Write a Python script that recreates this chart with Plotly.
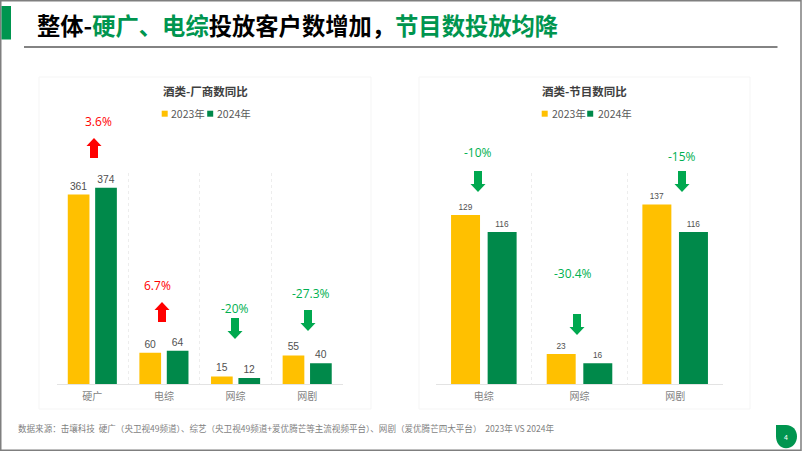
import plotly.graph_objects as go

W, H = 802, 451
cats_left = ["硬广", "电综", "网综", "网剧"]
left_2023 = [361, 60, 15, 55]
left_2024 = [374, 64, 12, 40]
cats_right = ["电综", "网综", "网剧"]
right_2023 = [129, 23, 137]
right_2024 = [116, 16, 116]
series_names = ["2023年", "2024年"]
left_changes = ["3.6%", "6.7%", "-20%", "-27.3%"]
right_changes = ["-10%", "-30.4%", "-15%"]

YEL, GRN = "#FFC000", "#00894A"
RED, LGRN, AGRN = "#FF0000", "#00B050", "#00A84F"
CJK = "Noto Sans CJK SC"
LAT = "Liberation Sans"


def px(x):
    return x / W


def py(y):
    return 1 - y / H


fig = go.Figure()


def add_series(cats, v23, v24, xa, ya, size):
    for name, vals, col in ((series_names[0], v23, YEL), (series_names[1], v24, GRN)):
        fig.add_bar(x=cats, y=vals, name=name, marker_color=col,
                    marker_line=dict(width=4, color="rgba(0,0,0,0)"),
                    text=vals, textposition="outside", cliponaxis=False,
                    textfont=dict(family=LAT, size=size, color="#505050"),
                    xaxis=xa, yaxis=ya, showlegend=False, hoverinfo="skip")


add_series(cats_left, left_2023, left_2024, "x", "y", 10.3)
add_series(cats_right, right_2023, right_2024, "x2", "y2", 8.3)


def shape(**kw):
    return dict(xref="paper", yref="paper", **kw)


shapes = [
    shape(type="rect", x0=px(0.75), x1=px(801), y0=py(0.75), y1=py(450.2), line=dict(color="#7F7F7F", width=1.5)),
    shape(type="rect", x0=px(1.5), x1=px(11), y0=py(6), y1=py(39.5), fillcolor="#00954F", line_width=0),
    shape(type="line", x0=px(24), x1=px(777.5), y0=py(47), y1=py(47), line=dict(color="#5A5A5A", width=1.5)),
    shape(type="rect", x0=px(39), x1=px(371), y0=py(77), y1=py(409), line=dict(color="#F5F5F5", width=1)),
    shape(type="rect", x0=px(419), x1=px(750), y0=py(77), y1=py(409), line=dict(color="#F5F5F5", width=1)),
    shape(type="path", path=f"M {px(776)} {py(425)} L {px(786)} {py(425)} "
          f"C {px(792.5)} {py(425)} {px(797)} {py(430)} {px(797)} {py(436.5)} "
          f"C {px(797)} {py(443)} {px(792.5)} {py(448.3)} {px(786)} {py(448.3)} "
          f"C {px(780)} {py(448.3)} {px(776)} {py(443)} {px(776)} {py(436.5)} Z",
          fillcolor="#00954F", line_width=0),
]


def arrow(cx, top, bot, up, color):
    hw, sw, hh = 7.5, 4, 8
    if up:
        pts = [(cx, top), (cx + hw, top + hh), (cx + sw, top + hh), (cx + sw, bot), (cx - sw, bot), (cx - sw, top + hh), (cx - hw, top + hh)]
    else:
        pts = [(cx, bot), (cx + hw, bot - hh), (cx + sw, bot - hh), (cx + sw, top), (cx - sw, top), (cx - sw, bot - hh), (cx - hw, bot - hh)]
    path = "M " + " L ".join(f"{px(a)} {py(b)}" for a, b in pts) + " Z"
    shapes.append(shape(type="path", path=path, fillcolor=color, line_width=0))


arrows = [
    (94, 138, 158, True, RED), (162, 302, 322, True, RED), (235, 318, 339, False, AGRN), (308, 310, 331, False, AGRN),
    (478, 171, 192, False, AGRN), (577, 314, 335, False, AGRN), (682, 171, 192, False, AGRN),
]
for a in arrows:
    arrow(*a)


def note(x, y, text, size, color, family=CJK, anchor="center"):
    return dict(x=px(x), y=py(y), xref="paper", yref="paper", text=text, showarrow=False,
                xanchor=anchor, yanchor="middle", font=dict(family=family, size=size, color=color))


title = ('<b>整体-<span style="color:#00954F">硬广、电综</span>投放客户数增加，'
         '<span style="color:#00954F">节目数投放均降</span></b>')
annotations = [
    note(35, 25, title, 23.3, "#000000", anchor="left"),
    note(205, 90.5, "<b>酒类-厂商数同比</b>", 11.5, "#404040"),
    note(584.5, 90.5, "<b>酒类-节目数同比</b>", 11.5, "#404040"),
    note(16, 428, "数据来源：击壤科技  硬广（央卫视49频道）、综艺（央卫视49频道+爱优腾芒等主流视频平台）、网剧（爱优腾芒四大平台）  2023年 VS 2024年",
         8.55, "#7F7F7F", anchor="left"),
    note(786, 437, "4", 7, "#FFFFFF"),
]

# legends: colour square followed by the series name
for sq0, tx0, in ((161.7, 169), (541.7, 550)):
    shapes.append(shape(type="rect", x0=px(sq0), x1=px(sq0 + 6), y0=py(110.7), y1=py(116.7), fillcolor=YEL, line_width=0))
    shapes.append(shape(type="rect", x0=px(sq0 + 45.5), x1=px(sq0 + 51.5), y0=py(110.7), y1=py(116.7), fillcolor=GRN, line_width=0))
    annotations.append(note(tx0, 113.5, series_names[0], 10.5, "#595959", anchor="left"))
    annotations.append(note(tx0 + 45.5, 113.5, series_names[1], 10.5, "#595959", anchor="left"))

left_pos = [(98, 121), (157, 285), (235, 308), (311, 293)]
left_cols = [RED, RED, LGRN, LGRN]
for t, (x, y), c in zip(left_changes, left_pos, left_cols):
    annotations.append(note(x, y, t, 12, c, family="Open Sans"))
right_pos = [(478, 152), (573, 273), (682, 156)]
for t, (x, y) in zip(right_changes, right_pos):
    annotations.append(note(x, y, t, 12, LGRN, family="Open Sans"))


def xaxis(x0, x1):
    return dict(domain=[px(x0), px(x1)], tickson="boundaries", ticks="", showgrid=True, griddash="dot",
                gridcolor="#EDEDED", gridwidth=1, showline=True, linecolor="#E3E3E3", linewidth=1,
                tickfont=dict(family=CJK, size=10, color="#7F7F7F"), ticklabelstandoff=3, fixedrange=True)


def yaxis(top, ymax, anchor):
    return dict(domain=[py(384.3), py(top)], range=[0, ymax], visible=False, showgrid=False, anchor=anchor, fixedrange=True)


fig.update_layout(
    width=W, height=H, margin=dict(l=0, r=0, t=0, b=0), autosize=False,
    paper_bgcolor="white", plot_bgcolor="white", barmode="group", bargap=0.235, bargroupgap=0.208,
    showlegend=False, shapes=shapes, annotations=annotations,
    xaxis=xaxis(56.5, 343), yaxis=yaxis(172.7, 402.5, "x"),
    xaxis2=xaxis(436, 723), yaxis2=yaxis(172.7, 161.2, "x2"),
)
fig.write_html("out.html", config=dict(displayModeBar=False),
               post_script="document.body.style.margin='0';document.body.style.overflow='hidden';")
